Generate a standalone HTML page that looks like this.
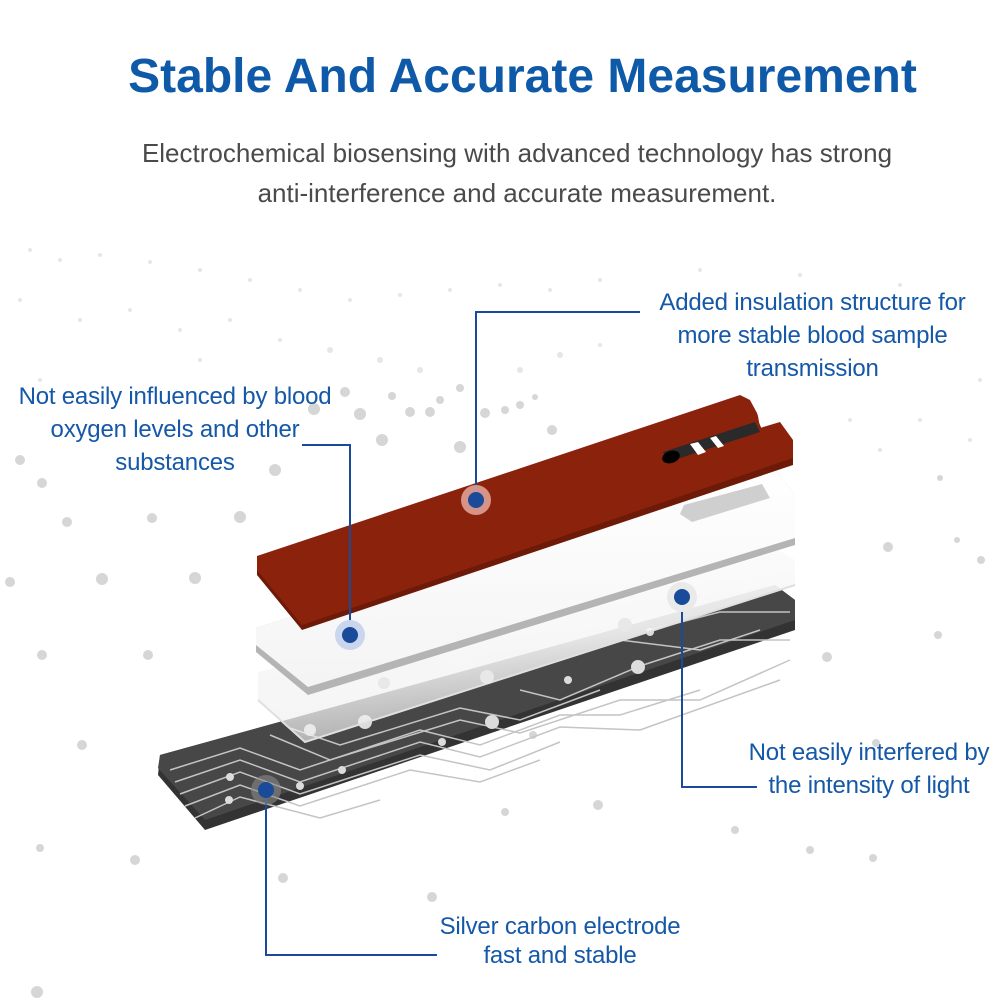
<!DOCTYPE html>
<html><head><meta charset="utf-8"><style>
html,body{margin:0;padding:0;background:#fff;}
body{width:1000px;height:1000px;position:relative;overflow:hidden;font-family:"Liberation Sans",Arial,sans-serif;}
.t{position:absolute;white-space:nowrap;}
.lab{position:absolute;color:#1558a8;font-size:24px;line-height:33px;text-align:center;white-space:nowrap;letter-spacing:-0.2px;}
</style></head><body>
<svg width="1000" height="1000" style="position:absolute;left:0;top:0">
<defs>
<linearGradient id="wg" x1="0" y1="0" x2="0" y2="1"><stop offset="0" stop-color="#fff"/><stop offset="1" stop-color="#f4f4f4"/></linearGradient>
<linearGradient id="fade" x1="0" y1="0" x2="0.3" y2="1"><stop offset="0" stop-color="#fff" stop-opacity="1"/><stop offset="0.6" stop-color="#f6f6f6" stop-opacity="0.9"/><stop offset="1" stop-color="#eee" stop-opacity="0.6"/></linearGradient>
</defs>
<g fill="#d6d6d6">
<circle cx="20" cy="460" r="5"/><circle cx="42" cy="483" r="5"/><circle cx="67" cy="522" r="5"/><circle cx="152" cy="518" r="5"/><circle cx="240" cy="517" r="6"/><circle cx="102" cy="579" r="6"/><circle cx="195" cy="578" r="6"/><circle cx="10" cy="582" r="5"/><circle cx="42" cy="655" r="5"/><circle cx="148" cy="655" r="5"/><circle cx="82" cy="745" r="5"/><circle cx="40" cy="848" r="4"/><circle cx="135" cy="860" r="5"/><circle cx="283" cy="878" r="5"/><circle cx="432" cy="897" r="5"/><circle cx="37" cy="992" r="6"/><circle cx="598" cy="805" r="5"/><circle cx="505" cy="812" r="4"/><circle cx="735" cy="830" r="4"/><circle cx="810" cy="850" r="4"/><circle cx="873" cy="858" r="4"/><circle cx="876" cy="743" r="4"/><circle cx="827" cy="657" r="5"/><circle cx="938" cy="635" r="4"/><circle cx="888" cy="547" r="5"/><circle cx="981" cy="560" r="4"/><circle cx="957" cy="540" r="3"/><circle cx="940" cy="478" r="3"/><circle cx="275" cy="470" r="6"/><circle cx="382" cy="440" r="6"/><circle cx="460" cy="447" r="6"/><circle cx="552" cy="430" r="5"/><circle cx="314" cy="409" r="6"/><circle cx="360" cy="414" r="6"/><circle cx="410" cy="412" r="5"/><circle cx="430" cy="412" r="5"/><circle cx="485" cy="413" r="5"/><circle cx="505" cy="410" r="4"/><circle cx="520" cy="405" r="4"/><circle cx="535" cy="397" r="3"/><circle cx="345" cy="392" r="5"/><circle cx="392" cy="396" r="4"/><circle cx="460" cy="388" r="4"/><circle cx="440" cy="400" r="4"/><circle cx="533" cy="735" r="4"/><circle cx="400" cy="760" r="4"/>
</g>
<g fill="#e6e6e6">
<circle cx="30" cy="250" r="2"/><circle cx="60" cy="260" r="2"/><circle cx="100" cy="255" r="2"/><circle cx="150" cy="262" r="2"/><circle cx="200" cy="270" r="2"/><circle cx="250" cy="280" r="2"/><circle cx="300" cy="290" r="2"/><circle cx="350" cy="300" r="2"/><circle cx="400" cy="295" r="2"/><circle cx="450" cy="290" r="2"/><circle cx="500" cy="285" r="2"/><circle cx="550" cy="290" r="2"/><circle cx="600" cy="280" r="2"/><circle cx="700" cy="270" r="2"/><circle cx="800" cy="275" r="2"/><circle cx="900" cy="285" r="2"/><circle cx="960" cy="300" r="2"/><circle cx="20" cy="300" r="2"/><circle cx="80" cy="320" r="2"/><circle cx="130" cy="310" r="2"/><circle cx="180" cy="330" r="2"/><circle cx="230" cy="320" r="2"/><circle cx="280" cy="340" r="2"/><circle cx="330" cy="350" r="3"/><circle cx="380" cy="360" r="3"/><circle cx="420" cy="370" r="3"/><circle cx="520" cy="370" r="3"/><circle cx="560" cy="355" r="3"/><circle cx="600" cy="345" r="2"/><circle cx="850" cy="420" r="2"/><circle cx="880" cy="450" r="2"/><circle cx="920" cy="420" r="2"/><circle cx="970" cy="440" r="2"/><circle cx="980" cy="380" r="2"/><circle cx="40" cy="380" r="2"/><circle cx="200" cy="360" r="2"/>
</g>
<polygon points="160,755 775,585 795,600 795,630 205,830 158,775" fill="#333"/>
<polygon points="160,755 775,585 795,600 795,620 205,820 158,768" fill="#474747"/>
<g stroke="#c4c4c4" stroke-width="1.5" fill="none">
<polyline points="170,770 240,748 300,770 420,730 480,745 560,715 620,715 700,690"/>
<polyline points="175,782 240,760 300,782 420,742 480,757 560,727 640,730 780,680"/>
<polyline points="180,794 240,772 300,794 420,755 490,770 560,742"/>
<polyline points="185,806 240,785 300,806 410,770 480,782 540,760"/>
<polyline points="195,818 240,797 320,818 380,800"/>
<polyline points="270,735 330,760 460,720 520,733 620,700 700,700 790,660"/>
<polyline points="290,728 340,745 460,708 520,720 600,690"/>
<polyline points="520,690 560,700 640,666 720,640 790,640"/>
<polyline points="620,640 700,650 760,630"/>
<polyline points="650,630 720,612 790,612"/>
</g>
<g fill="#dcdcdc">
<circle cx="492" cy="722" r="7"/><circle cx="638" cy="667" r="7"/><circle cx="310" cy="730" r="6"/><circle cx="365" cy="722" r="7"/><circle cx="568" cy="680" r="4"/><circle cx="650" cy="632" r="4"/><circle cx="230" cy="777" r="4"/><circle cx="229" cy="800" r="4"/><circle cx="300" cy="786" r="4"/><circle cx="342" cy="770" r="4"/><circle cx="442" cy="742" r="4"/>
</g>
<polygon points="258,672 770,545 795,560 795,585 305,742 258,700" fill="url(#fade)"/>
<polyline points="258,700 305,742 795,585" fill="none" stroke="#e0e0e0" stroke-width="2"/>
<g fill="#e8e8e8"><circle cx="487" cy="677" r="7"/><circle cx="625" cy="625" r="7"/><circle cx="384" cy="683" r="6"/></g>
<polygon points="256,628 770,463 795,495 795,545 308,695 256,652" fill="#b4b4b4"/>
<polygon points="256,628 770,463 795,495 795,538 308,687 256,645" fill="url(#wg)"/>
<polygon points="684,505 762,484 770,498 692,522 680,514" fill="#cfcfcf"/>
<polygon points="257,560 740,397 750,402 757,415 758,420 762,430 780,424 793,445 793,465 302,630 257,575" fill="#6e1a08"/>
<polygon points="257,556 740,395 750,400 757,413 758,416 760,428 780,422 793,440 793,458 302,625 257,570" fill="#8b220c"/>
<polygon points="663,452 755,422 760,432 668,462" fill="#2a2a2a"/>
<polygon points="690,444 698,442 706,452 698,455" fill="#fff"/>
<polygon points="710,438 716,436 724,446 718,448" fill="#fff"/>
<ellipse cx="671" cy="457" rx="9" ry="6" fill="#000" transform="rotate(-18 671 457)"/>
<g stroke="#1a4a9a" stroke-width="2" fill="none">
<polyline points="476,500 476,312 640,312"/>
<polyline points="350,635 350,445 302,445"/>
<polyline points="682,597 682,787 757,787"/>
<polyline points="266,790 266,955 437,955"/>
</g>
<circle cx="476" cy="500" r="15" fill="#e8b0a6" opacity="0.8"/><circle cx="476" cy="500" r="8" fill="#1a4a9a"/>
<circle cx="350" cy="635" r="15" fill="#c9d6ee"/><circle cx="350" cy="635" r="8" fill="#1a4a9a"/>
<circle cx="682" cy="597" r="15" fill="#eaeaea"/><circle cx="682" cy="597" r="8" fill="#1a4a9a"/>
<circle cx="266" cy="790" r="15" fill="#888" opacity="0.6"/><circle cx="266" cy="790" r="8" fill="#1a4a9a"/>
</svg>
<div class="t" style="left:0;width:1045px;text-align:center;top:49px;font-size:48px;font-weight:bold;color:#0f5aa8;">Stable And Accurate Measurement</div>
<div class="t" style="left:0;width:1034px;text-align:center;top:133px;font-size:26px;line-height:40px;color:#4a4a4a;white-space:normal;">Electrochemical biosensing with advanced technology has strong<br>anti-interference and accurate measurement.</div>
<div class="lab" style="left:640px;width:345px;top:286px;">Added insulation structure for<br>more stable blood sample<br>transmission</div>
<div class="lab" style="left:0;width:350px;top:380px;">Not easily influenced by blood<br>oxygen levels and other<br>substances</div>
<div class="lab" style="left:738px;width:262px;top:736px;">Not easily interfered by<br>the intensity of light</div>
<div class="lab" style="left:420px;width:280px;top:912px;line-height:29px;">Silver carbon electrode<br>fast and stable</div>
</body></html>
